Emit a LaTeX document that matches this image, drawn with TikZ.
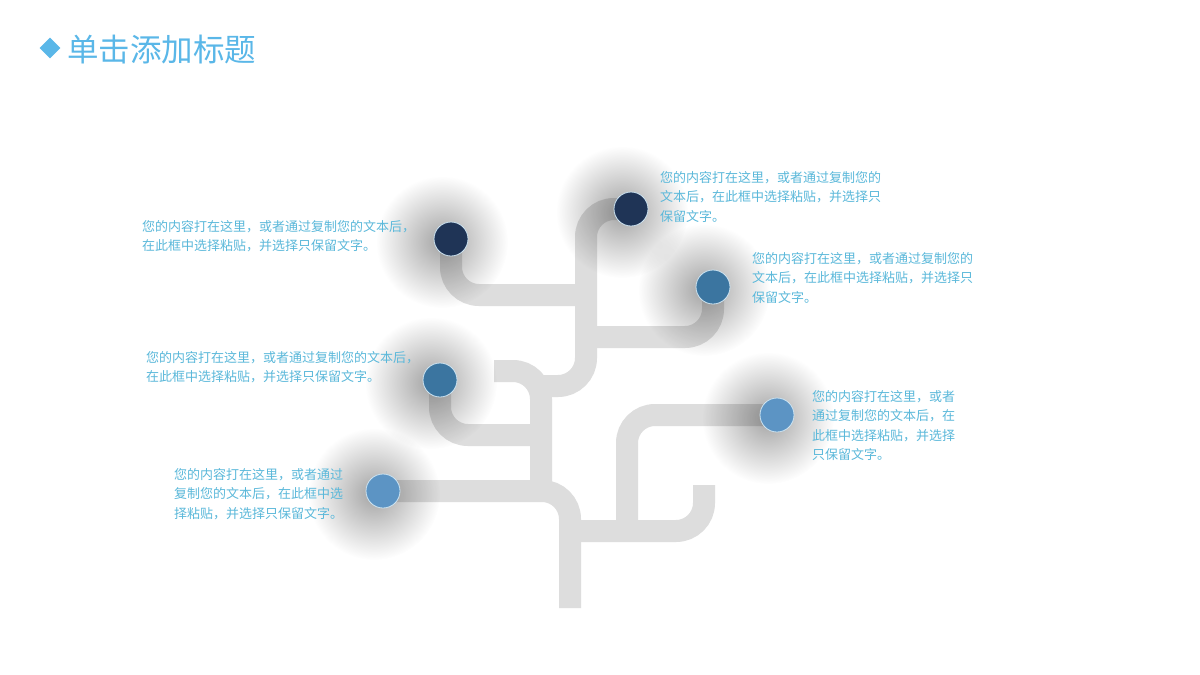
\documentclass[tikz,border=0pt]{standalone}
\usepackage{fontspec}
\newfontfamily\cjk{Noto Sans CJK SC}
\usepackage{xcolor}
\usetikzlibrary{positioning,calc,fadings}

\definecolor{titleblue}{RGB}{90,183,232}
\definecolor{textblue}{RGB}{90,184,218}
\definecolor{pipegray}{RGB}{221,221,221}
\definecolor{navy}{RGB}{31,52,86}
\definecolor{midblue}{RGB}{59,117,160}
\definecolor{paleblue}{RGB}{92,148,196}
\definecolor{rim}{RGB}{205,228,242}
\tikzfading[name=glow, inner color=transparent!64, outer color=transparent!100]

\begin{document}
\begin{tikzpicture}[x=1pt,y=-1pt,
  pipe/.style={draw=pipegray, line width=22pt, rounded corners=28pt},
  halo/.style={fill=black, path fading=glow},
  dot/.style={circle, fill=#1, draw=rim, line width=0.8pt, minimum size=34pt, inner sep=0pt},
  note/.style={font=\cjk\fontsize{13}{19.5}\selectfont, text=textblue, align=left, anchor=north west, inner sep=0pt}]
\fill[white] (0,0) rectangle (1200,675);
\useasboundingbox (0,0) rectangle (1200,675);

% title
\node[fill=titleblue, rotate=45, minimum size=14.5pt, inner sep=0pt] (mark) at (50,48) {};
\node[anchor=west, inner sep=0pt, font=\cjk\fontsize{31.5}{31.5}\selectfont, text=titleblue] (title) at (67,50) {单击添加标题};

\coordinate (pA) at (631,209);
\coordinate (pB) at (451,239);
\coordinate (pC) at (713,287);
\coordinate (pD) at (440,380);
\coordinate (pE) at (777,415);
\coordinate (pF) at (383,491);
\coordinate (root) at (570,608);
\coordinate (hookS) at (494,371);
\coordinate (sfoot) at (541,491);
\coordinate (djoin) at (541,435);
\coordinate (ujoin) at (541,386);
\coordinate (utop) at (586,209);
\coordinate (bjoin) at (586,295);
\coordinate (cjoin) at (586,337);
\coordinate (ejoin) at (627,531);
\coordinate (rjoin) at (570,531);
\coordinate (hookR) at (704,485);

\draw[pipe] (root) |- (pF);
\draw[pipe] (hookS) -| (sfoot);
\draw[pipe] (pD) |- (djoin);
\draw[pipe] (ujoin) -| (utop) -- (pA);
\draw[pipe] (pB) |- (bjoin);
\draw[pipe] (pC) |- (cjoin);
\draw[pipe] (pE) -| (ejoin);
\draw[pipe] (rjoin) -| (hookR);

\fill[halo] ($(pA)+(-9,3)$) circle (66pt);
\fill[halo] ($(pB)+(-9,3)$) circle (66pt);
\fill[halo] ($(pC)+(-9,3)$) circle (66pt);
\fill[halo] ($(pD)+(-9,3)$) circle (66pt);
\fill[halo] ($(pE)+(-9,3)$) circle (66pt);
\fill[halo] ($(pF)+(-9,3)$) circle (66pt);

\node[dot=navy] (cA) at (pA) {};
\node[dot=navy] (cB) at (pB) {};
\node[dot=midblue] (cC) at (pC) {};
\node[dot=midblue] (cD) at (pD) {};
\node[dot=paleblue] (cE) at (pE) {};
\node[dot=paleblue] (cF) at (pF) {};

\node[note] (noteA) at (660,171) {您的内容打在这里，或者通过复制您的\\文本后，在此框中选择粘贴，并选择只\\保留文字。};
\node[note] (noteB) at (142,220) {您的内容打在这里，或者通过复制您的文本后，\\在此框中选择粘贴，并选择只保留文字。};
\node[note] (noteC) at (752,252) {您的内容打在这里，或者通过复制您的\\文本后，在此框中选择粘贴，并选择只\\保留文字。};
\node[note] (noteD) at (146,351) {您的内容打在这里，或者通过复制您的文本后，\\在此框中选择粘贴，并选择只保留文字。};
\node[note] (noteE) at (812,390) {您的内容打在这里，或者\\通过复制您的文本后，在\\此框中选择粘贴，并选择\\只保留文字。};
\node[note] (noteF) at (174,468) {您的内容打在这里，或者通过\\复制您的文本后，在此框中选\\择粘贴，并选择只保留文字。};
\end{tikzpicture}
\end{document}
